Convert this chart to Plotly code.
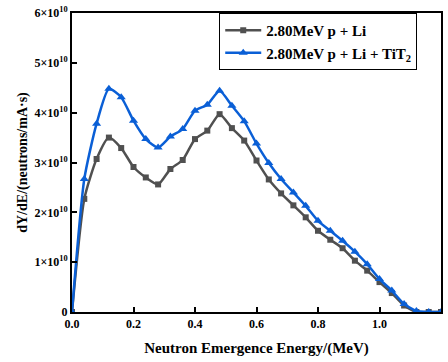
import plotly.graph_objects as go

energy = [0.0, 0.04, 0.08, 0.12, 0.16, 0.20, 0.24, 0.28, 0.32, 0.36, 0.40, 0.44, 0.48,
          0.52, 0.56, 0.60, 0.64, 0.68, 0.72, 0.76, 0.80, 0.84, 0.88, 0.92, 0.96,
          1.00, 1.04, 1.08, 1.12, 1.16, 1.20]

li = [0.0, 2.27, 3.07, 3.50, 3.29, 2.91, 2.70, 2.56, 2.87, 3.05, 3.47, 3.64, 3.97,
      3.69, 3.44, 3.04, 2.66, 2.38, 2.14, 1.90, 1.63, 1.45, 1.28, 1.03, 0.83,
      0.60, 0.38, 0.13, 0.0, 0.0, 0.0]

li_tit = [0.0, 2.67, 3.78, 4.48, 4.31, 3.84, 3.47, 3.30, 3.52, 3.67, 4.04, 4.16, 4.44,
          4.14, 3.83, 3.38, 2.99, 2.67, 2.40, 2.13, 1.83, 1.63, 1.43, 1.21, 0.96,
          0.66, 0.43, 0.16, 0.02, 0.0, 0.0]

scale = 1e10
y_ticks = [0, 1, 2, 3, 4, 5, 6]
y_ticktext = ["0"] + [f"{v}×10<sup>10</sup>" for v in y_ticks[1:]]
x_ticks = [0.0, 0.2, 0.4, 0.6, 0.8, 1.0, 1.2]
x_ticktext = ["0.0", "0.2", "0.4", "0.6", "0.8", "1.0", "1.2"]

font_family = "Liberation Serif"

fig = go.Figure()
fig.add_trace(go.Scatter(
    x=energy, y=[v * scale for v in li], mode="lines+markers",
    name="<b>2.80MeV p + Li</b>",
    line=dict(color="#505050", width=2.5, shape="spline", smoothing=0.6),
    marker=dict(symbol="square", size=6, color="#505050"),
))
fig.add_trace(go.Scatter(
    x=energy, y=[v * scale for v in li_tit], mode="lines+markers",
    name="<b>2.80MeV p + Li + TiT<sub>2</sub></b>",
    line=dict(color="#0a5fd6", width=2.5, shape="spline", smoothing=0.6),
    marker=dict(symbol="triangle-up", size=8, color="#0a5fd6"),
))

fig.update_layout(
    width=448, height=362,
    margin=dict(l=72, r=5, t=13, b=50),
    paper_bgcolor="white", plot_bgcolor="white",
    font=dict(family=font_family, color="black", size=11),
    showlegend=True,
    legend=dict(
        x=0.399, y=1.0, xanchor="left", yanchor="top",
        bordercolor="black", borderwidth=1, bgcolor="rgba(255,255,255,0)",
        font=dict(family=font_family, size=15, color="black"),
        tracegroupgap=0, itemwidth=36,
    ),
    xaxis=dict(
        range=[0, 1.2], tickvals=x_ticks, ticktext=[f"<b>{t}</b>" for t in x_ticktext],
        showline=True, linecolor="black", linewidth=2, mirror=True,
        ticks="inside", ticklen=5, tickwidth=2, tickcolor="black",
        showgrid=False, zeroline=False,
        title=dict(text="<b>Neutron Emergence Energy/(MeV)</b>",
                   font=dict(family=font_family, size=15), standoff=12),
        tickfont=dict(family=font_family, size=12),
    ),
    yaxis=dict(
        range=[0, 6e10], tickvals=[v * scale for v in y_ticks],
        ticktext=[f"<b>{t}</b>" for t in y_ticktext],
        showline=True, linecolor="black", linewidth=2, mirror=True,
        ticks="inside", ticklen=5, tickwidth=2, tickcolor="black",
        showgrid=False, zeroline=False,
        title=dict(text="<b>dY/dE/(neutrons/mA·s)</b>",
                   font=dict(family=font_family, size=14), standoff=3),
        tickfont=dict(family=font_family, size=12),
    ),
)

fig.write_html("out.html")
